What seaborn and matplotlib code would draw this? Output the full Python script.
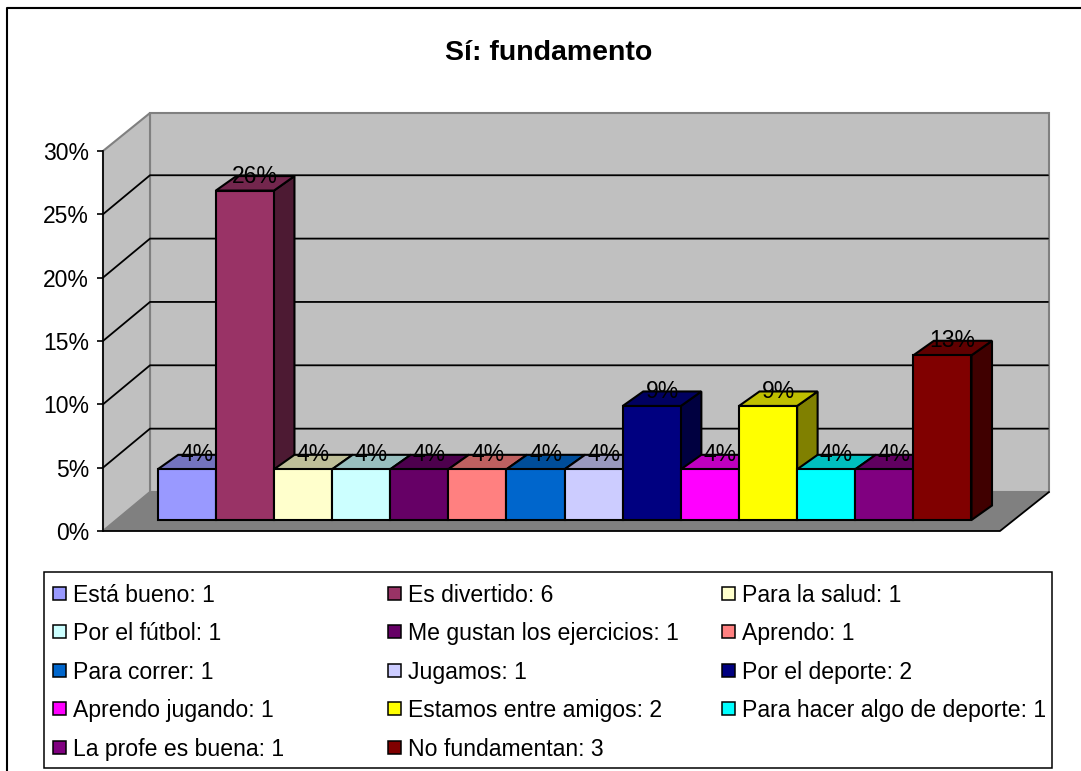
import numpy as np
import matplotlib
matplotlib.use('Agg')
import matplotlib.pyplot as plt
from matplotlib.patches import Polygon, Rectangle
import seaborn as sns

# datos
categorias = ['Está bueno: 1', 'Es divertido: 6', 'Para la salud: 1', 'Por el fútbol: 1',
              'Me gustan los ejercicios: 1', 'Aprendo: 1', 'Para correr: 1', 'Jugamos: 1',
              'Por el deporte: 2', 'Aprendo jugando: 1', 'Estamos entre amigos: 2',
              'Para hacer algo de deporte: 1', 'La profe es buena: 1', 'No fundamentan: 3']
valores = [4, 26, 4, 4, 4, 4, 4, 4, 9, 4, 9, 4, 4, 13]
colores = ['#9999FF', '#993366', '#FFFFCC', '#CCFFFF', '#660066', '#FF8080', '#0066CC',
           '#CCCCFF', '#000080', '#FF00FF', '#FFFF00', '#00FFFF', '#800080', '#800000']
marcas_y = [0, 5, 10, 15, 20, 25, 30]

W, H = 1081, 771
PROF_X, PROF_Y = 20.5, 14.5   # profundidad de las barras
PARED_X, PARED_Y = 47, 39     # profundidad de la caja
ESCALA = 12.67                # pixeles por 1%

sns.set_theme(style='white')
plt.rcParams['font.family'] = ['Liberation Sans', 'DejaVu Sans']
plt.rcParams['text.color'] = 'black'


def caja(izq, arr, der, aba):
    # ejes en coordenadas de pixel de la imagen
    return fig.add_axes([izq / W, 1 - aba / H, (der - izq) / W, (aba - arr) / H])


fig = plt.figure(figsize=(W / 100, H / 100), dpi=100, facecolor='white')

# fondo: marco, paredes, piso, leyenda
fondo = caja(0, 0, W, H)
fondo.set_xlim(0, W)
fondo.set_ylim(H, 0)
fondo.axis('off')
fondo.plot([6, W], [6.5, 6.5], color='#C8C8C8', lw=0.8)
fondo.plot([7, 7, W], [H, 8, 8], color='black', lw=1.5)
fondo.add_patch(Polygon([(150, 113), (1049, 113), (1049, 492), (150, 492)],
                        fc='#C0C0C0', ec='#808080', lw=1.5))
fondo.add_patch(Polygon([(103, 151), (150, 113), (150, 492), (103, 531)],
                        fc='#C0C0C0', ec='#808080', lw=1.5))
fondo.add_patch(Polygon([(103, 531), (150, 492), (1049, 492), (1000, 531)],
                        fc='#808080', ec='none'))
fondo.plot([103, 1000, 1049], [531, 531, 492], color='black', lw=1.3)
for v in marcas_y[1:-1]:
    yy = 531 - v * ESCALA
    fondo.plot([103, 150, 1048], [yy, yy - PARED_Y, yy - PARED_Y], color='black', lw=1.3)
fondo.text(549, 53, 'Sí: fundamento', fontsize=20.5, fontweight='bold', ha='center', va='center')

fondo.add_patch(Rectangle((44, 572), 1008, 196, fc='white', ec='black', lw=1.1))
for i, (cat, col) in enumerate(zip(categorias, colores)):
    fila, columna = divmod(i, 3)
    x0 = 53 + columna * 334.7
    y0 = 593 + fila * 38.6
    fondo.add_patch(Rectangle((x0, y0 - 6.5), 13, 13, fc=col, ec='black', lw=1.1))
    fondo.text(x0 + 20, y0 + 2, cat, fontsize=16.6, va='center', ha='left')

# eje y en el plano frontal
eje = caja(103, 531 - 30 * ESCALA, 200, 531)
eje.patch.set_alpha(0)
eje.set_ylim(0, 30)
eje.set_xticks([])
eje.set_yticks(marcas_y)
eje.set_yticklabels([str(v) + '%' for v in marcas_y])
eje.tick_params(axis='y', left=True, length=4, width=1.2, color='black', labelsize=16.5,
                pad=6, labelcolor='black')
for lado in ['top', 'right', 'bottom']:
    eje.spines[lado].set_visible(False)
eje.spines['left'].set_color('black')
eje.spines['left'].set_linewidth(1.2)

# barras
ax = caja(157.7, 520 - 30 * ESCALA, 971.5, 520)
ax.patch.set_alpha(0)
sns.barplot(x=categorias, y=valores, hue=categorias, palette=colores, dodge=False, legend=False,
            width=1, saturation=1, edgecolor='black', linewidth=1.5, ax=ax)
ax.set_xlim(-0.5, 13.5)
ax.set_ylim(0, 30)
ax.axis('off')

paso_x = PROF_X * 14 / 813.8
paso_y = PROF_Y / ESCALA
for barra, col, v in zip(ax.patches, colores, valores):
    barra.set_zorder(5)
    barra.set_clip_on(False)
    x0, x1 = barra.get_x(), barra.get_x() + barra.get_width()
    rgb = np.array(matplotlib.colors.to_rgb(col))
    ax.add_patch(Polygon([(x1, 0), (x1 + paso_x, paso_y), (x1 + paso_x, v + paso_y), (x1, v)],
                         fc=rgb * 0.5, ec='black', lw=1.5, zorder=2, clip_on=False))
    ax.add_patch(Polygon([(x0, v), (x0 + paso_x, v + paso_y), (x1 + paso_x, v + paso_y), (x1, v)],
                         fc=rgb * 0.75, ec='black', lw=1.5, zorder=2, clip_on=False))
    ax.text((x0 + x1) / 2 + paso_x / 2, v + paso_y, str(v) + '%', fontsize=16.5,
            ha='center', va='center', zorder=6, clip_on=False)

fig.savefig('out.png', dpi=100)
